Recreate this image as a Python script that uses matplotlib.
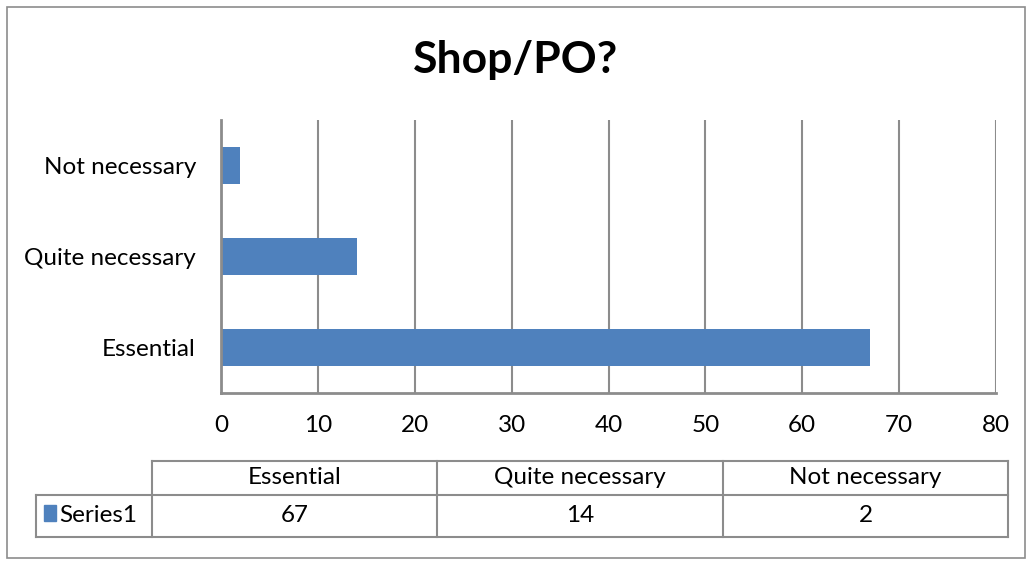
import matplotlib
matplotlib.use("Agg")
import matplotlib.pyplot as plt
from matplotlib.lines import Line2D
from matplotlib.patches import Rectangle

# Données du graphique
categories = ["Essential", "Quite necessary", "Not necessary"]
valeurs = [67, 14, 2]
serie = "Series1"
x_ticks = [0, 10, 20, 30, 40, 50, 60, 70, 80]

bleu = "#4F81BD"
gris = "#8C8C8C"
W, H = 1032, 565
taille = 17.5

plt.rcParams["font.family"] = ["Lato", "DejaVu Sans"]

fig = plt.figure(figsize=(W / 100, H / 100), dpi=100)


def fx(px):
    return px / W


def fy(py):
    return 1 - py / H


# cadre autour du graphique
fig.add_artist(Rectangle((fx(7), fy(558)), fx(1025) - fx(7), fy(7) - fy(558),
                         transform=fig.transFigure, fill=False, edgecolor=gris, lw=1.2))

ax = fig.add_axes([fx(221), fy(393), fx(996) - fx(221), fy(120) - fy(393)])
ax.barh(range(len(categories)), valeurs, height=0.4, color=bleu, zorder=3)
ax.set_ylim(-0.5, len(categories) - 0.5)
ax.set_xlim(0, 80)
ax.set_xticks(x_ticks)
ax.set_yticks(range(len(categories)))
ax.set_yticklabels(categories)
ax.tick_params(axis="both", length=0, labelsize=taille, colors="black")
ax.tick_params(axis="y", pad=18)
ax.tick_params(axis="x", pad=16)
ax.grid(axis="x", color=gris, lw=1.5, zorder=1)
for s in ["top", "right"]:
    ax.spines[s].set_visible(False)
for s in ["left", "bottom"]:
    ax.spines[s].set_color(gris)
    ax.spines[s].set_linewidth(2)
    ax.spines[s].set_zorder(4)

fig.text(0.5, fy(60), "Shop/PO?", ha="center", va="center", fontsize=32, fontweight="bold")

# Tableau de données sous le graphique
cols = [152, 437, 723, 1008]
rows = [461, 495, 537]
lw_t = 1.5


def ligne(x0, y0, x1, y1):
    fig.add_artist(Line2D([fx(x0), fx(x1)], [fy(y0), fy(y1)], transform=fig.transFigure,
                          color=gris, lw=lw_t))


ligne(cols[0], rows[0], cols[-1], rows[0])
ligne(36, rows[1], cols[-1], rows[1])
ligne(36, rows[2], cols[-1], rows[2])
ligne(36, rows[1], 36, rows[2])
for c in cols:
    ligne(c, rows[0], c, rows[2])

for i, cat in enumerate(categories):
    xc = (cols[i] + cols[i + 1]) / 2
    fig.text(fx(xc), fy((rows[0] + rows[1]) / 2), cat, ha="center", va="center", fontsize=taille)
    fig.text(fx(xc), fy((rows[1] + rows[2]) / 2), str(valeurs[i]), ha="center", va="center", fontsize=taille)

fig.add_artist(Rectangle((fx(44), fy(521)), fx(56) - fx(44), fy(505) - fy(521),
                         transform=fig.transFigure, color=bleu))
fig.text(fx(59), fy((rows[1] + rows[2]) / 2), serie, ha="left", va="center", fontsize=taille)

fig.savefig("out.png", dpi=100)
